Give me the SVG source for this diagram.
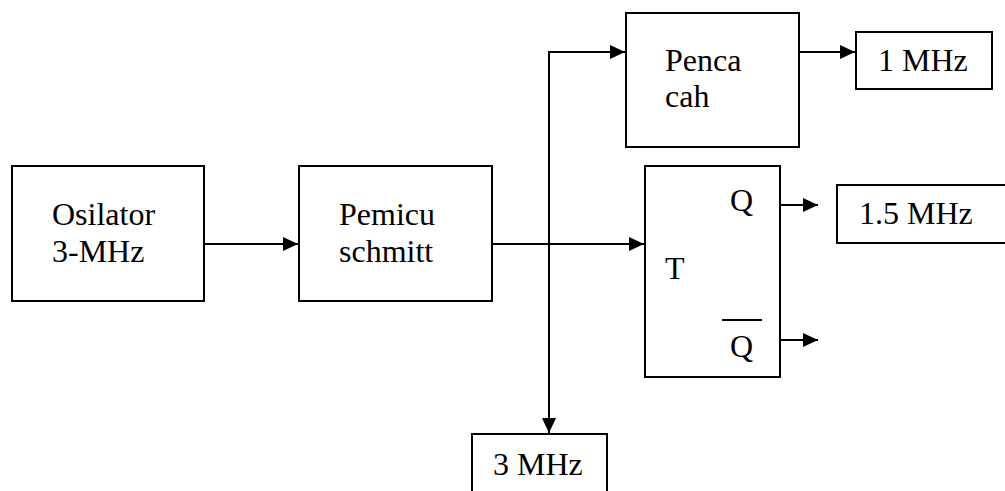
<svg xmlns="http://www.w3.org/2000/svg" width="1005" height="491" viewBox="0 0 1005 491">
<style>
.box{fill:#fff;stroke:#000;stroke-width:2}
.ln{fill:none;stroke:#000;stroke-width:2}
</style>
<defs>
<marker id="ah" markerUnits="userSpaceOnUse" markerWidth="16" markerHeight="14" refX="15" refY="7" orient="auto">
<path d="M0,0 L15,7 L0,14 Z" fill="#000"/>
</marker>
</defs>
<rect width="1005" height="491" fill="#fff"/>
<g id="connectors">
<line class="ln" x1="204" y1="244" x2="298" y2="244" marker-end="url(#ah)"/>
<line class="ln" x1="492" y1="244" x2="644" y2="244" marker-end="url(#ah)"/>
<path class="ln" d="M549,60 V52 H625" marker-end="url(#ah)"/>
<line class="ln" x1="549" y1="51" x2="549" y2="433" marker-end="url(#ah)"/>
<line class="ln" x1="799" y1="52" x2="855" y2="52" marker-end="url(#ah)"/>
<line class="ln" x1="780" y1="205" x2="818" y2="205" marker-end="url(#ah)"/>
<line class="ln" x1="780" y1="340" x2="818" y2="340" marker-end="url(#ah)"/>
</g>
<g id="osilator">
<rect class="box" x="12" y="166" width="192" height="135"/>
<text x="52" y="225" font-family="Liberation Serif, serif" font-size="32">Osilator</text>
<text x="52" y="262" font-family="Liberation Serif, serif" font-size="32">3-MHz</text>
</g>
<g id="pemicu">
<rect class="box" x="299" y="166" width="193" height="135"/>
<text x="339" y="225" font-family="Liberation Serif, serif" font-size="32">Pemicu</text>
<text x="339" y="262" font-family="Liberation Serif, serif" font-size="32">schmitt</text>
</g>
<g id="pencacah">
<rect class="box" x="626" y="13" width="173" height="134"/>
<text x="665" y="71" font-family="Liberation Serif, serif" font-size="32">Penca</text>
<text x="665" y="107" font-family="Liberation Serif, serif" font-size="32">cah</text>
</g>
<g id="out1mhz">
<rect class="box" x="856" y="32" width="136" height="57"/>
<text x="878" y="71" font-family="Liberation Serif, serif" font-size="32">1 MHz</text>
</g>
<g id="flipflop">
<rect class="box" x="645" y="166" width="135" height="211"/>
<text x="730" y="211" font-family="Liberation Serif, serif" font-size="32">Q</text>
<text x="665" y="279" font-family="Liberation Serif, serif" font-size="32">T</text>
<line x1="722" y1="320" x2="762" y2="320" stroke="#000" stroke-width="2"/>
<text x="730" y="357" font-family="Liberation Serif, serif" font-size="32">Q</text>
</g>
<g id="out15mhz">
<rect class="box" x="837" y="185" width="180" height="58"/>
<text x="859" y="224" font-family="Liberation Serif, serif" font-size="32">1.5 MHz</text>
</g>
<g id="out3mhz">
<rect class="box" x="472" y="434" width="135" height="70"/>
<text x="493" y="475" font-family="Liberation Serif, serif" font-size="32">3 MHz</text>
</g>
</svg>
